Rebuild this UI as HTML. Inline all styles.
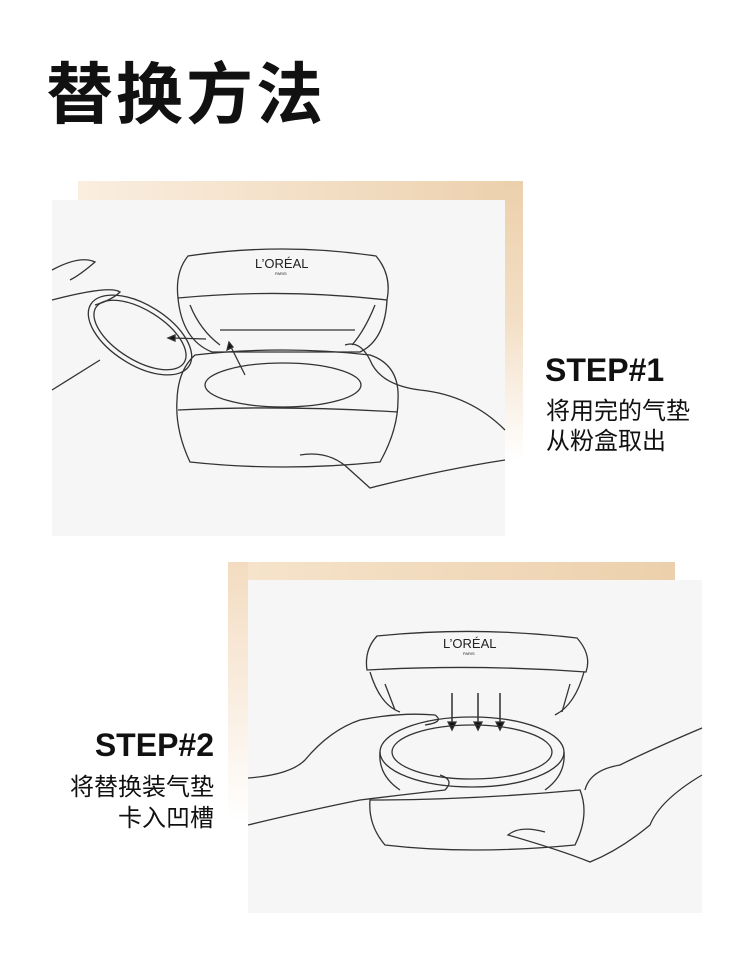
<!DOCTYPE html>
<html><head><meta charset="utf-8"><style>
html,body{margin:0;padding:0;background:#fff;}
body{width:750px;height:974px;position:relative;overflow:hidden;font-family:"Liberation Sans","Noto Sans CJK SC",sans-serif;}
.t{position:absolute;color:#111;}
.abs{position:absolute;}
</style></head><body>
<div class="t" style="left:46px;top:56px;font-size:67px;font-weight:bold;letter-spacing:3px;line-height:80px;">替换方法</div>

<div class="abs" style="left:78px;top:181px;width:445px;height:19px;background:linear-gradient(90deg,#faeee0,#ecd0ac);"></div>
<div class="abs" style="left:505px;top:181px;width:18px;height:280px;background:linear-gradient(180deg,#ecd0ac,#f3dfc6 50%,#fff);"></div>
<div class="abs" style="left:52px;top:200px;width:453px;height:336px;background:#f6f6f6;"></div>

<div class="abs" style="left:228px;top:562px;width:447px;height:18px;background:linear-gradient(90deg,#f6e4cc,#ecd0ac);"></div>
<div class="abs" style="left:228px;top:562px;width:20px;height:260px;background:linear-gradient(180deg,#f3dcc0,#f9eddf 50%,#fff);"></div>
<div class="abs" style="left:248px;top:580px;width:454px;height:333px;background:#f6f6f6;"></div>

<svg class="abs" style="left:0;top:0" width="750" height="974" fill="none" stroke="#333" stroke-width="1.3">
<!-- panel 1 compact -->
<path d="M188 256 Q282 242 376 256 Q392 275 387 300 Q282 288 178 298 Q175 272 188 256Z"/>
<path d="M178 298 Q182 340 212 352 L360 352 Q385 340 387 300"/>
<path d="M190 305 Q200 330 220 345 M375 305 Q365 330 352 345 M220 330 L355 330"/>
<path d="M195 355 Q282 345 370 355 Q400 365 398 400 Q398 430 380 462 Q282 472 190 462 Q175 430 177 400 Q178 370 195 355Z"/>
<ellipse cx="283" cy="385" rx="78" ry="22"/>
<path d="M178 410 Q282 405 398 412"/>
<text x="255" y="268" font-family="Liberation Sans" font-size="13" fill="#222" stroke="none">L’ORÉAL</text>
<text x="275" y="275" font-family="Liberation Sans" font-size="4" fill="#222" stroke="none">PARIS</text>
<ellipse cx="140" cy="335" rx="58" ry="30" transform="rotate(32 140 335)"/>
<ellipse cx="140" cy="335" rx="52" ry="25" transform="rotate(32 140 335)"/>
<path d="M52 270 Q80 255 95 262 Q80 275 70 280 M52 300 Q110 285 120 292 Q112 300 95 305 M52 390 L100 360"/>
<path d="M206 339 L172 338 M245 375 L230 345"/>
<path d="M168 338 L175 335 L175 341Z M229 342 L227 350 L233 347Z" fill="#111"/>
<path d="M345 345 Q360 340 370 360 Q380 385 420 390 Q470 395 505 430 M300 455 Q330 450 350 470 L370 488 Q440 470 505 460"/>
<!-- panel 2 compact -->
<path d="M377 636 Q477 626 577 638 Q592 655 586 672 Q477 664 367 670 Q364 650 377 636Z"/>
<path d="M370 672 Q380 705 400 712 M584 672 Q575 705 555 715"/>
<path d="M385 684 L395 710 M570 684 L562 712"/>
<path d="M452 693 L452 727 M478 693 L478 727 M500 693 L500 727" stroke="#111"/>
<path d="M448 722 L452 730 L456 722Z M474 722 L478 730 L482 722Z M496 722 L500 730 L504 722Z" fill="#111"/>
<ellipse cx="472" cy="752" rx="92" ry="35"/>
<ellipse cx="472" cy="752" rx="80" ry="27"/>
<path d="M380 752 Q378 775 400 790 M564 752 Q566 775 545 790"/>
<path d="M370 800 Q470 800 580 790 Q590 815 575 845 Q470 855 385 845 Q368 825 370 800Z"/>
<text x="443" y="648" font-family="Liberation Sans" font-size="13" fill="#222" stroke="none">L’ORÉAL</text>
<text x="463" y="655" font-family="Liberation Sans" font-size="4" fill="#222" stroke="none">PARIS</text>
<path d="M248 778 Q290 775 305 760 Q330 730 360 720 Q400 712 435 715 Q445 722 425 725 M248 825 Q310 810 360 800 Q400 795 445 790 Q455 780 440 775"/>
<path d="M702 728 Q650 750 620 765 Q590 770 585 790 M702 775 Q660 800 650 825 Q620 850 590 862 Q560 850 508 835 Q520 825 545 832"/>
</svg>

<div class="t" style="left:545px;top:350px;font-size:32px;font-weight:bold;line-height:40px;">STEP#1</div>
<div class="t" style="left:546px;top:397px;font-size:24px;line-height:30px;">将用完的气垫<br>从粉盒取出</div>
<div class="t" style="left:0;width:214px;text-align:right;top:725px;font-size:32px;font-weight:bold;line-height:40px;">STEP#2</div>
<div class="t" style="left:0;width:214px;text-align:right;top:772px;font-size:24px;line-height:31px;">将替换装气垫<br>卡入凹槽</div>
</body></html>
